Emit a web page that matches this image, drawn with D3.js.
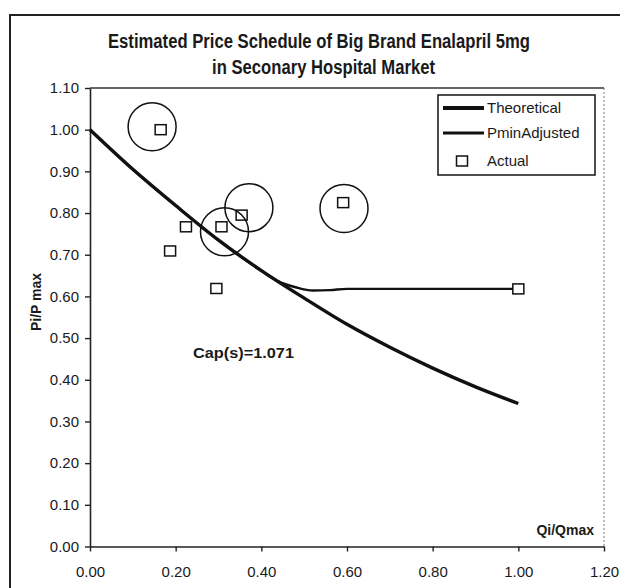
<!DOCTYPE html>
<html>
<head>
<meta charset="utf-8">
<script src="https://cdn.jsdelivr.net/npm/d3@7"></script>
<style>
  html, body { margin: 0; padding: 0; background: #fff; }
  svg { display: block; }
  text { font-family: "Liberation Sans", Arial, sans-serif; fill: #1a1a1a; }
</style>
</head>
<body>
<svg id="chart" width="620" height="588"></svg>
<script>
// Price schedule: x = Qi/Qmax, y = Pi/Pmax
const theoreticalX = [0, 0.1, 0.2, 0.3, 0.4, 0.5, 0.6, 0.7, 0.8, 0.9, 1.0];
const theoreticalY = [1.00, 0.905, 0.818, 0.735, 0.662, 0.596, 0.533, 0.478, 0.428, 0.383, 0.343];

const pminX = [0, 0.1, 0.2, 0.3, 0.4, 0.44, 0.48, 0.52, 0.56, 0.6, 0.8, 1.0];
const pminY = [1.00, 0.905, 0.818, 0.735, 0.662, 0.636, 0.622, 0.614, 0.615, 0.618, 0.618, 0.618];

const actualX = [0.165, 0.187, 0.224, 0.295, 0.307, 0.354, 0.591, 1.00];
const actualY = [1.00, 0.709, 0.767, 0.619, 0.767, 0.795, 0.825, 0.618];

// highlighted observations (circled)
const ringX = [0.145, 0.314, 0.371, 0.593];
const ringY = [1.007, 0.755, 0.813, 0.811];

const xTicks = [0, 0.2, 0.4, 0.6, 0.8, 1.0, 1.2];
const yTicks = [0, 0.1, 0.2, 0.3, 0.4, 0.5, 0.6, 0.7, 0.8, 0.9, 1.0, 1.1];

const seriesNames = ["Theoretical", "PminAdjusted", "Actual"];
const titleLines = ["Estimated Price Schedule of Big Brand Enalapril 5mg", "in Seconary Hospital Market"];
const capLabel = "Cap(s)=1.071";

const svg = d3.select("#chart");

// outer chart frame
svg.append("rect")
  .attr("x", 10).attr("y", 15).attr("width", 630).attr("height", 600)
  .attr("fill", "none").attr("stroke", "#222").attr("stroke-width", 2);

const plotL = 90, plotR = 604, plotT = 88, plotB = 546.5;
const x = d3.scaleLinear().domain([0, 1.2]).range([plotL, plotR]);
const y = d3.scaleLinear().domain([0, 1.1]).range([plotB, plotT]);

// plot area frame: top solid, right dotted
svg.append("line")
  .attr("x1", plotL).attr("x2", plotR).attr("y1", plotT).attr("y2", plotT)
  .attr("stroke", "#333").attr("stroke-width", 1.5);
svg.append("line")
  .attr("x1", plotR).attr("x2", plotR).attr("y1", plotT).attr("y2", plotB)
  .attr("stroke", "#777").attr("stroke-width", 1).attr("stroke-dasharray", "2,2");

// titles
const titleLen = [422, 223];
const titleCx = [319, 323.5];
const titleBase = [48, 74];
titleLines.forEach((t, i) => {
  svg.append("text")
    .attr("x", titleCx[i] - titleLen[i] / 2).attr("y", titleBase[i])
    .attr("font-size", 19.5).attr("font-weight", "bold")
    .attr("textLength", titleLen[i]).attr("lengthAdjust", "spacingAndGlyphs")
    .text(t);
});

// axes
const yAxis = d3.axisLeft(y).tickValues(yTicks).tickFormat(d3.format(".2f"))
  .tickSize(5).tickSizeOuter(0).tickPadding(6);
const gy = svg.append("g").attr("transform", `translate(${plotL},0)`).call(yAxis);

const xAxis = d3.axisBottom(x).tickValues(xTicks).tickFormat(d3.format(".2f"))
  .tickSize(5).tickSizeOuter(0).tickPadding(15);
const gx = svg.append("g").attr("transform", `translate(0,${plotB})`).call(xAxis);

[gx, gy].forEach(g => {
  g.select(".domain").attr("stroke", "#222").attr("stroke-width", 1.6);
  g.selectAll(".tick line").attr("stroke", "#222").attr("stroke-width", 1.4);
  g.selectAll(".tick text")
    .attr("font-size", 15)
    .attr("font-family", "Liberation Sans, Arial, sans-serif")
    .attr("fill", "#333");
});

// axis titles
svg.append("text")
  .attr("transform", "translate(41,302) rotate(-90)")
  .attr("text-anchor", "middle")
  .attr("font-size", 14).attr("font-weight", "bold")
  .text("Pi/P max");
svg.append("text")
  .attr("x", 594).attr("y", 535)
  .attr("text-anchor", "end")
  .attr("font-size", 14).attr("font-weight", "bold")
  .text("Qi/Qmax");

// curves
const line = d3.line().x(d => x(d[0])).y(d => y(d[1])).curve(d3.curveMonotoneX);
const pminData = pminX.map((v, i) => [v, pminY[i]]);
const theoData = theoreticalX.map((v, i) => [v, theoreticalY[i]]);

svg.append("path").datum(pminData).attr("d", line)
  .attr("fill", "none").attr("stroke", "#111").attr("stroke-width", 2.4);
svg.append("path").datum(theoData).attr("d", line)
  .attr("fill", "none").attr("stroke", "#111").attr("stroke-width", 3.4);

// actual observations
const sqW = 11, sqH = 10;
svg.append("g").selectAll("rect")
  .data(actualX.map((v, i) => [v, actualY[i]]))
  .join("rect")
  .attr("x", d => x(d[0]) - sqW / 2).attr("y", d => y(d[1]) - sqH / 2)
  .attr("width", sqW).attr("height", sqH)
  .attr("fill", "#fff").attr("stroke", "#111").attr("stroke-width", 1.5);

// rings around selected observations
svg.append("g").selectAll("circle")
  .data(ringX.map((v, i) => [v, ringY[i]]))
  .join("circle")
  .attr("cx", d => x(d[0])).attr("cy", d => y(d[1])).attr("r", 24)
  .attr("fill", "none").attr("stroke", "#111").attr("stroke-width", 1.5);

// annotation
svg.append("text")
  .attr("x", 193).attr("y", 358)
  .attr("font-size", 15).attr("font-weight", "bold")
  .attr("textLength", 101).attr("lengthAdjust", "spacingAndGlyphs")
  .text(capLabel);

// legend
const lg = svg.append("g");
lg.append("rect")
  .attr("x", 438).attr("y", 95).attr("width", 157).attr("height", 80)
  .attr("fill", "#fff").attr("stroke", "#222").attr("stroke-width", 1.6);
const rowY = [108, 133, 161];
lg.append("line").attr("x1", 443).attr("x2", 484).attr("y1", rowY[0]).attr("y2", rowY[0])
  .attr("stroke", "#111").attr("stroke-width", 4);
lg.append("line").attr("x1", 443).attr("x2", 484).attr("y1", rowY[1]).attr("y2", rowY[1])
  .attr("stroke", "#111").attr("stroke-width", 3);
lg.append("rect").attr("x", 462 - sqW / 2).attr("y", rowY[2] - sqH / 2)
  .attr("width", sqW).attr("height", sqH)
  .attr("fill", "#fff").attr("stroke", "#111").attr("stroke-width", 1.5);
seriesNames.forEach((n, i) => {
  lg.append("text")
    .attr("x", 487).attr("y", rowY[i] + 5)
    .attr("font-size", 15)
    .text(n);
});
</script>
</body>
</html>
